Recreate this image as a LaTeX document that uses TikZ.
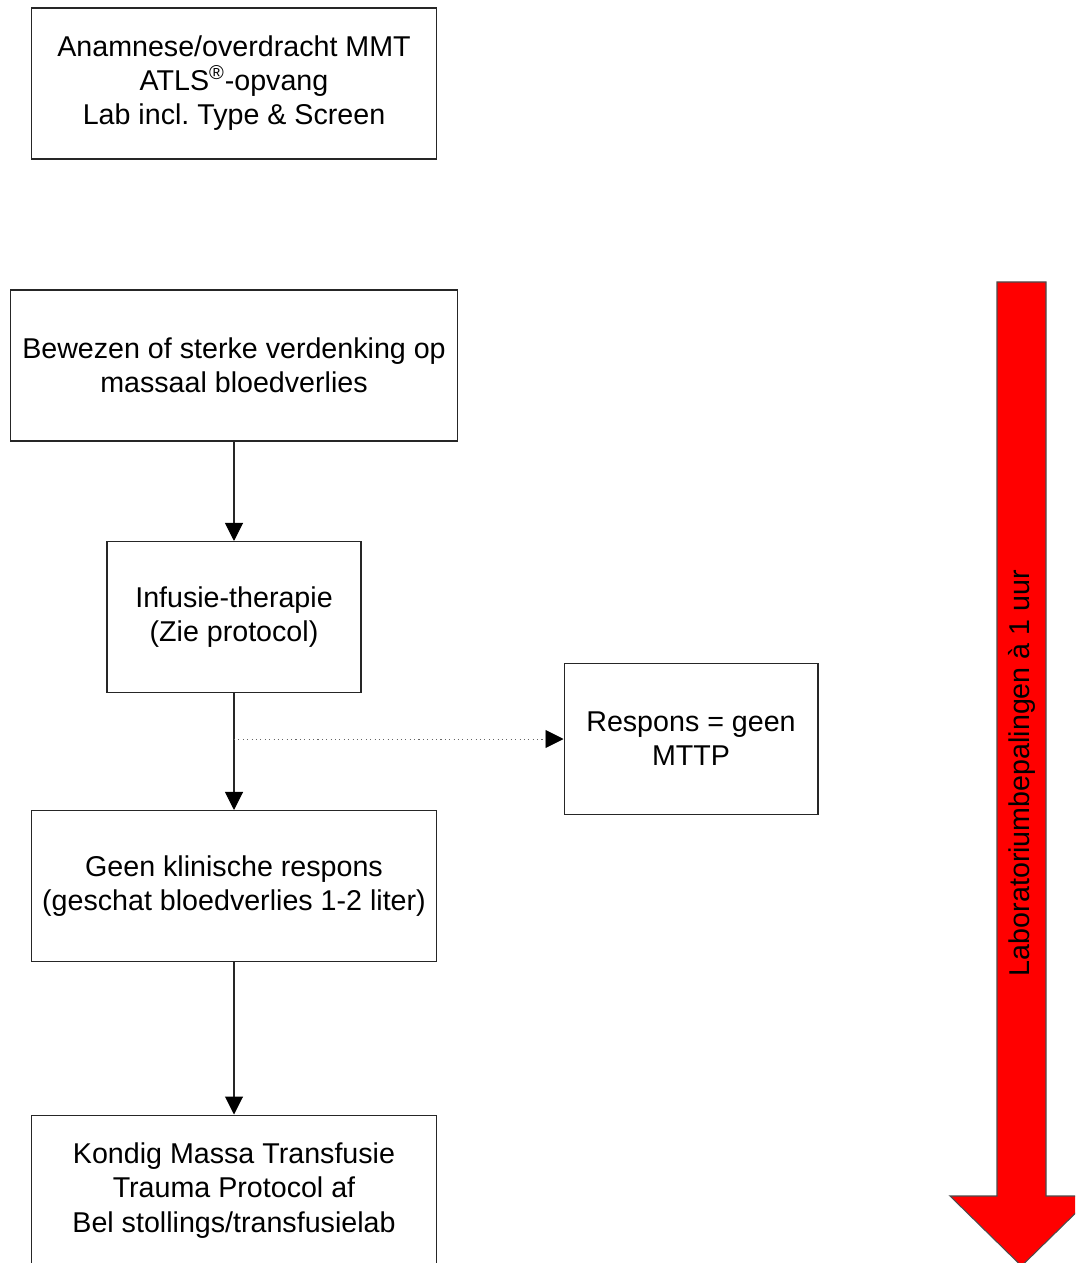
\documentclass[tikz,border=0pt]{standalone}
\usepackage{fontspec}
\setmainfont{Liberation Sans}
\usetikzlibrary{arrows.meta}

\begin{document}
\begin{tikzpicture}[x=0.02cm, y=-0.02cm,
  stap/.style={draw=black!85, line width=0.6pt, align=center, minimum height=3.02cm,
    inner sep=2pt, font=\fontsize{16.3}{19.4}\selectfont},
  pijl/.style={-{Triangle[length=0.36cm,width=0.36cm,color=black]}, line width=0.6pt, draw=black!85}
]
\clip (0,0) rectangle (1075,1263);

% Flowchart boxes
\node[stap, minimum width=8.12cm] (anamnese) at (234,83.5)
  {Anamnese/overdracht MMT\\ATLS\textsuperscript{®}-opvang\\Lab incl.\ Type \& Screen};
\node[stap, minimum width=8.96cm] (bewezen) at (234,365.5)
  {Bewezen of sterke verdenking op\\massaal bloedverlies};
\node[stap, minimum width=5.08cm] (infusie) at (234,617)
  {Infusie-therapie\\(Zie protocol)};
\node[stap, minimum width=5.08cm] (respons) at (691,739)
  {Respons = geen\\MTTP};
\node[stap, minimum width=8.12cm] (geen) at (234,886)
  {Geen klinische respons\\(geschat bloedverlies 1-2 liter)};
\node[stap, minimum width=8.12cm] (kondig) at (234,1190.5)
  {Kondig Massa Transfusie\\Trauma Protocol af\\Bel stollings/transfusielab};

\draw[pijl] (bewezen) -- (infusie);
\draw[pijl] (infusie) -- (geen);
\draw[pijl] (geen) -- (kondig);
\draw[-{Triangle[length=0.36cm,width=0.36cm,color=black]}, line width=0.5pt, black!60,
  dash pattern=on 0.6pt off 1.9pt] (infusie.south |- respons.west) -- (respons.west);

% Red time arrow
\draw[fill=red, draw=black!70, line width=0.6pt]
  (997,282) -- (1046,282) -- (1046,1196) -- (1093,1196) -- (1021.5,1266)
  -- (950,1196) -- (997,1196) -- cycle;
\node[rotate=90, font=\fontsize{16.3}{19.4}\selectfont] (lab) at (1021.5,773)
  {Laboratoriumbepalingen à 1 uur};

\end{tikzpicture}
\end{document}
